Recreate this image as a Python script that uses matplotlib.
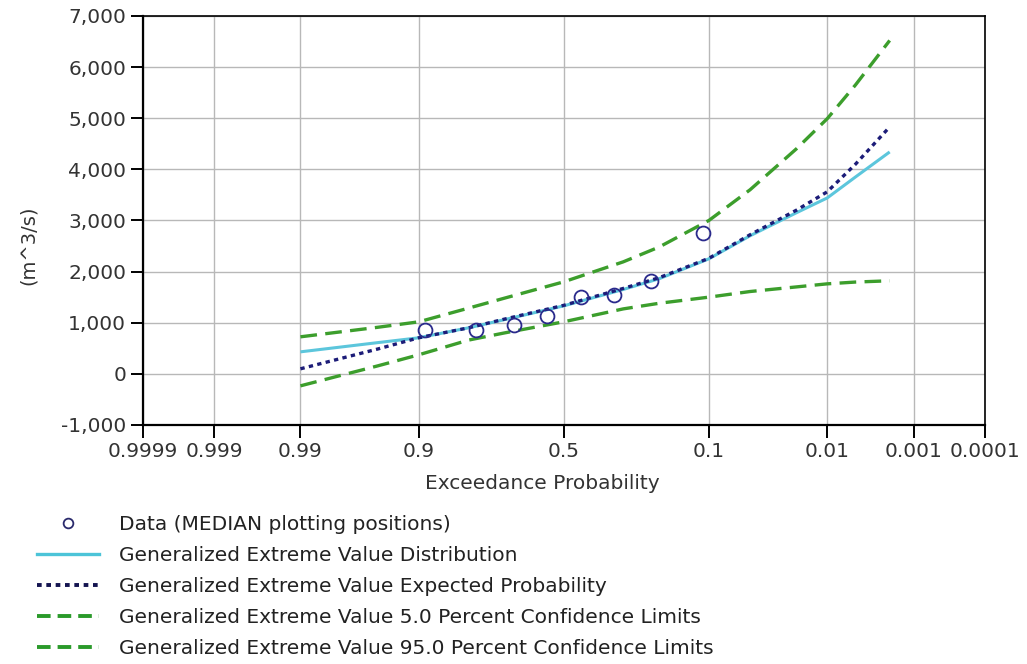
import matplotlib
matplotlib.use("Agg")
import matplotlib.pyplot as plt
import numpy as np
from matplotlib.ticker import FixedLocator, StrMethodFormatter, NullLocator
from statistics import NormalDist

plt.rcParams['font.family'] = ['DejaVu Sans']
plt.rcParams['axes.unicode_minus'] = False

# exceedance probabilities of the plotted data (median plotting positions)
data_prob = [0.89, 0.78, 0.67, 0.56, 0.44, 0.33, 0.22, 0.11]
data_flow = [860, 860, 960, 1140, 1500, 1550, 1820, 2750]

# curve probabilities
curve_prob = [0.99, 0.95, 0.9, 0.8, 0.7, 0.5, 0.3, 0.2, 0.1, 0.05, 0.02, 0.01, 0.005, 0.002]
gev_dist = [430, 610, 705, 900, 1060, 1330, 1650, 1860, 2250, 2700, 3150, 3440, 3850, 4340]
gev_expected = [98, 485, 705, 900, 1070, 1340, 1670, 1880, 2260, 2720, 3200, 3560, 4100, 4830]
gev_conf_05 = [724, 910, 1017, 1285, 1480, 1800, 2190, 2480, 3000, 3600, 4400, 4990, 5650, 6520]
gev_conf_95 = [-235, 155, 372, 660, 800, 1018, 1270, 1380, 1500, 1610, 1700, 1760, 1795, 1820]

tick_prob = [0.9999, 0.999, 0.99, 0.9, 0.5, 0.1, 0.01, 0.001, 0.0001]
tick_text = ["0.9999", "0.999", "0.99", "0.9", "0.5", "0.1", "0.01", "0.001", "0.0001"]

nd = NormalDist()
_ppf = np.vectorize(lambda v: nd.inv_cdf(1.0 - v), otypes=[float])
_cdf = np.vectorize(lambda v: 1.0 - nd.cdf(v), otypes=[float])


def forward(p):
    p = np.clip(np.asarray(p, dtype=float), 1e-12, 1 - 1e-12)
    return _ppf(p)


def inverse(z):
    return _cdf(np.asarray(z, dtype=float))


fig = plt.figure(figsize=(10.27, 6.64), dpi=100)
ax = fig.add_axes([0.139, 0.36, 0.82, 0.616])
ax.set_xscale('function', functions=(forward, inverse))

ax.plot(curve_prob, gev_dist, color='#5cc6dc', lw=2.2, solid_capstyle='butt')
ax.plot(curve_prob, gev_expected, color='#1c1c78', lw=2.4, linestyle=(0, (1.3, 1.3)))
ax.plot(curve_prob, gev_conf_05, color='#3c9e2c', lw=2.4, linestyle=(0, (5, 2.5)))
ax.plot(curve_prob, gev_conf_95, color='#3c9e2c', lw=2.4, linestyle=(0, (5, 2.5)))
ax.plot(data_prob, data_flow, linestyle='none', marker='o', markersize=10,
        markerfacecolor='none', markeredgecolor='#2a2a8c', markeredgewidth=1.3)

ax.set_xlim(0.0001, 0.9999)
ax.set_ylim(-1000, 7000)
ax.xaxis.set_major_locator(FixedLocator(tick_prob))
ax.xaxis.set_minor_locator(NullLocator())
ax.set_xticklabels(tick_text)
ax.set_yticks(np.arange(-1000, 7001, 1000))
ax.yaxis.set_major_formatter(StrMethodFormatter('{x:,.0f}'))

ax.grid(True, color='#b8b8b8', lw=1)
ax.set_axisbelow(True)
for s in ['left', 'bottom']:
    ax.spines[s].set_linewidth(1.6)
for s in ['top', 'right']:
    ax.spines[s].set_linewidth(1.2)
ax.tick_params(axis='both', direction='out', length=9, width=1.4, labelsize=14.5, pad=3,
               colors='black', labelcolor='#333333')

ax.set_xlabel('Exceedance Probability', fontsize=14.5, color='#333333')
ax.xaxis.set_label_coords(0.474, -0.12)
ax.set_ylabel('(m^3/s)', fontsize=14, color='#333333')
ax.yaxis.set_label_coords(-0.125, 0.44)

handles = [
    plt.Line2D([], [], linestyle='none', marker='o', markersize=7, markerfacecolor='none',
               markeredgecolor='#2a2a6c', markeredgewidth=1.3),
    plt.Line2D([], [], color='#4cc4d8', lw=2.4),
    plt.Line2D([], [], color='#141450', lw=2.8, linestyle=(0, (1.2, 1.2))),
    plt.Line2D([], [], color='#2a9a2a', lw=2.8, linestyle=(0, (3.5, 1.8))),
    plt.Line2D([], [], color='#2a9a2a', lw=2.8, linestyle=(0, (3.5, 1.8))),
]
labels = [
    'Data (MEDIAN plotting positions)',
    'Generalized Extreme Value Distribution',
    'Generalized Extreme Value Expected Probability',
    'Generalized Extreme Value 5.0 Percent Confidence Limits',
    'Generalized Extreme Value 95.0 Percent Confidence Limits',
]
leg = fig.legend(handles, labels, loc='upper left', bbox_to_anchor=(0.026, 0.24),
                 frameon=False, fontsize=14.5, handlelength=3.1, handletextpad=1.0,
                 labelspacing=0.6, borderpad=0)
for t in leg.get_texts():
    t.set_color('#222222')

fig.savefig('out.png', dpi=100)
